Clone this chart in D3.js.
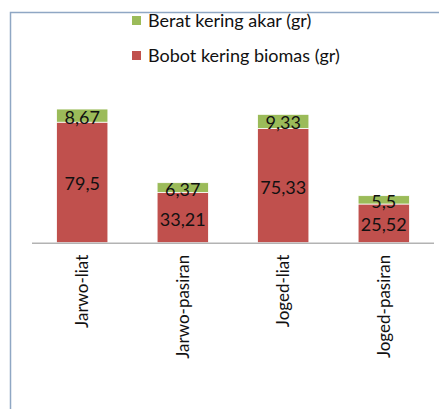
<!DOCTYPE html>
<html>
<head>
<meta charset="utf-8">
<script src="https://cdn.jsdelivr.net/npm/d3@7"></script>
<style>
  body { margin: 0; background: #fff; }
  svg { display: block; font-family: Lato, "Open Sans", sans-serif; }
</style>
</head>
<body>
<svg class="canvas" width="439" height="409"></svg>
<script>
var categories = ["Jarwo-liat", "Jarwo-pasiran", "Joged-liat", "Joged-pasiran"];
var biomas = [79.5, 33.21, 75.33, 25.52];
var akar = [8.67, 6.37, 9.33, 5.5];
var seriesNames = ["Berat kering akar (gr)", "Bobot kering biomas (gr)"];
var seriesColors = ["#9bbb59", "#c0504d"];

var svg = d3.select(".canvas");

// frame (only top and left edges are visible in the picture)
svg.append("path")
    .attr("d", "M10.5,409V12.5H439")
    .style("fill", "none")
    .style("stroke", "#8fa7c4")
    .style("stroke-width", 1.5);

var x = d3.scaleBand()
    .domain(categories)
    .range([32, 434])
    .paddingInner(0.49)
    .paddingOuter(0.245);

var y = d3.scaleLinear()
    .domain([0, 100])
    .range([242.7, 91.1]);

var fmt = function(v) { return String(v).replace(".", ","); };

var rows = categories.map(function(c, i) {
    return { cat: c, biomas: biomas[i], akar: akar[i] };
});

var stack = d3.stack().keys(["biomas", "akar"])(rows);
var color = { biomas: seriesColors[1], akar: seriesColors[0] };

var layer = svg.selectAll(".layer")
    .data(stack)
    .enter()
    .append("g")
        .attr("class", "layer");

layer.selectAll("rect")
    .data(function(d) { return d.map(function(p) { p.key = d.key; return p; }); })
    .enter()
    .append("rect")
        .attr("x", function(d) { return x(d.data.cat); })
        .attr("width", x.bandwidth())
        .attr("y", function(d) { return y(d[1]); })
        .attr("height", function(d) { return y(d[0]) - y(d[1]); })
        .style("fill", function(d) { return color[d.key]; })
        .style("stroke", "#fff")
        .style("stroke-width", 0.75);

layer.selectAll("text")
    .data(function(d) { return d; })
    .enter()
    .append("text")
        .attr("x", function(d) { return x(d.data.cat) + x.bandwidth() / 2; })
        .attr("y", function(d) { return (y(d[0]) + y(d[1])) / 2 + 1; })
        .attr("text-anchor", "middle")
        .attr("dominant-baseline", "central")
        .style("font-size", "18px")
        .style("fill", "#111")
        .text(function(d) { return fmt(+(d[1] - d[0]).toFixed(2)); });

// x axis
var xAxis = svg.append("g")
    .attr("transform", "translate(0," + y(0) + ")")
    .call(d3.axisBottom(x).tickSize(0).tickPadding(0));

xAxis.select(".domain")
    .attr("d", "M32,0.5H434")
    .style("stroke", "#b3b3b3")
    .style("stroke-width", 1.5);

xAxis.selectAll(".tick text")
    .attr("transform", "rotate(-90)")
    .attr("x", -12)
    .attr("y", 0)
    .attr("dy", "0.35em")
    .attr("text-anchor", "end")
    .style("font-family", "Lato, sans-serif")
    .style("font-size", "17px")
    .style("fill", "#111");

// legend
var legend = svg.selectAll(".legend")
    .data(seriesNames)
    .enter()
    .append("g")
        .attr("class", "legend")
        .attr("transform", function(d, i) { return "translate(132," + (16 + i * 35) + ")"; });

legend.append("rect")
    .attr("width", 9)
    .attr("height", 9)
    .style("fill", function(d, i) { return seriesColors[i]; });

legend.append("text")
    .attr("x", 16)
    .attr("y", 11)
    .style("font-size", "18px")
    .style("fill", "#111")
    .text(function(d) { return d; });
</script>
</body>
</html>
